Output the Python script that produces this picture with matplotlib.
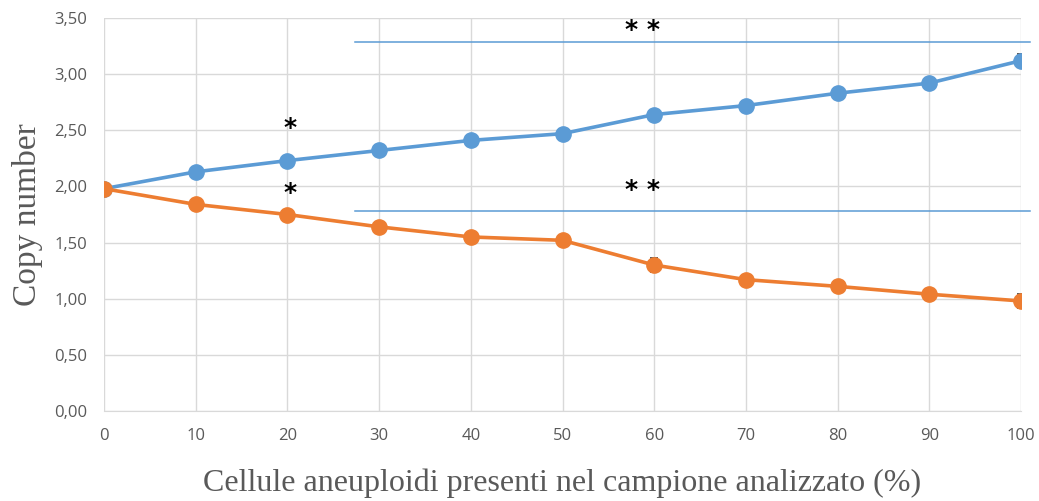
import numpy as np
import matplotlib.pyplot as plt
from matplotlib.ticker import FuncFormatter

# data
cellule = [0, 10, 20, 30, 40, 50, 60, 70, 80, 90, 100]
blu = [1.98, 2.13, 2.23, 2.32, 2.41, 2.47, 2.64, 2.72, 2.83, 2.92, 3.12]
blu_err = [0.04, 0.02, 0.02, 0.02, 0.02, 0.02, 0.03, 0.02, 0.02, 0.02, 0.06]
arancio = [1.98, 1.84, 1.75, 1.64, 1.55, 1.52, 1.30, 1.17, 1.11, 1.04, 0.98]
arancio_err = [0.05, 0.05, 0.02, 0.02, 0.02, 0.02, 0.06, 0.02, 0.02, 0.02, 0.06]

# significance lines and stars
sig_lines_y = [3.29, 1.78]
sig_x0, sig_x1 = 27.4, 101.0
stelle = [(20.3, 2.52, '*'), (20.3, 1.94, '*'), (58.7, 3.39, '* *'), (58.7, 1.97, '* *')]

c_blu = '#5b9bd5'
c_ar = '#ed7d31'
grigio = '#595959'

fig = plt.figure(figsize=(10.39, 5.01), dpi=100)
ax = fig.add_axes([104/1039, 1 - 411/501, 917/1039, 393/501])

for y, err, c in [(blu, blu_err, c_blu), (arancio, arancio_err, c_ar)]:
    ax.errorbar(cellule, y, yerr=err, color=c, lw=2.6, marker='o', ms=11,
                ecolor='#404040', elinewidth=1.2, capsize=3, capthick=1.2, zorder=3)

for ys in sig_lines_y:
    ax.plot([sig_x0, sig_x1], [ys, ys], color=c_blu, lw=1.1, clip_on=False, zorder=2)

for x, y, s in stelle:
    ax.text(x, y, s, ha='center', va='center', fontsize=18, color='black',
            family='DejaVu Sans', fontweight='bold')

ax.set_xlim(0, 100)
ax.set_ylim(0, 3.5)
ax.set_xticks(cellule)
ax.set_yticks(np.arange(0, 3.51, 0.5))
ax.yaxis.set_major_formatter(FuncFormatter(lambda v, p: f'{v:.2f}'.replace('.', ',')))
ax.grid(True, color='#d9d9d9', lw=1)
ax.set_axisbelow(True)
for s in ax.spines.values():
    s.set_visible(False)
ax.spines['bottom'].set_visible(True)
ax.spines['bottom'].set_color('#d9d9d9')
ax.tick_params(length=0, labelsize=12, labelcolor=grigio, pad=12)
for lab in ax.get_xticklabels() + ax.get_yticklabels():
    lab.set_family('Open Sans')

ax.set_xlabel('Cellule aneuploidi presenti nel campione analizzato (%)', family='Liberation Serif',
              fontsize=23, color=grigio, labelpad=18)
ax.set_ylabel('Copy number', family='Liberation Serif', fontsize=24, color=grigio, labelpad=8)

fig.savefig('out.png', dpi=100)
